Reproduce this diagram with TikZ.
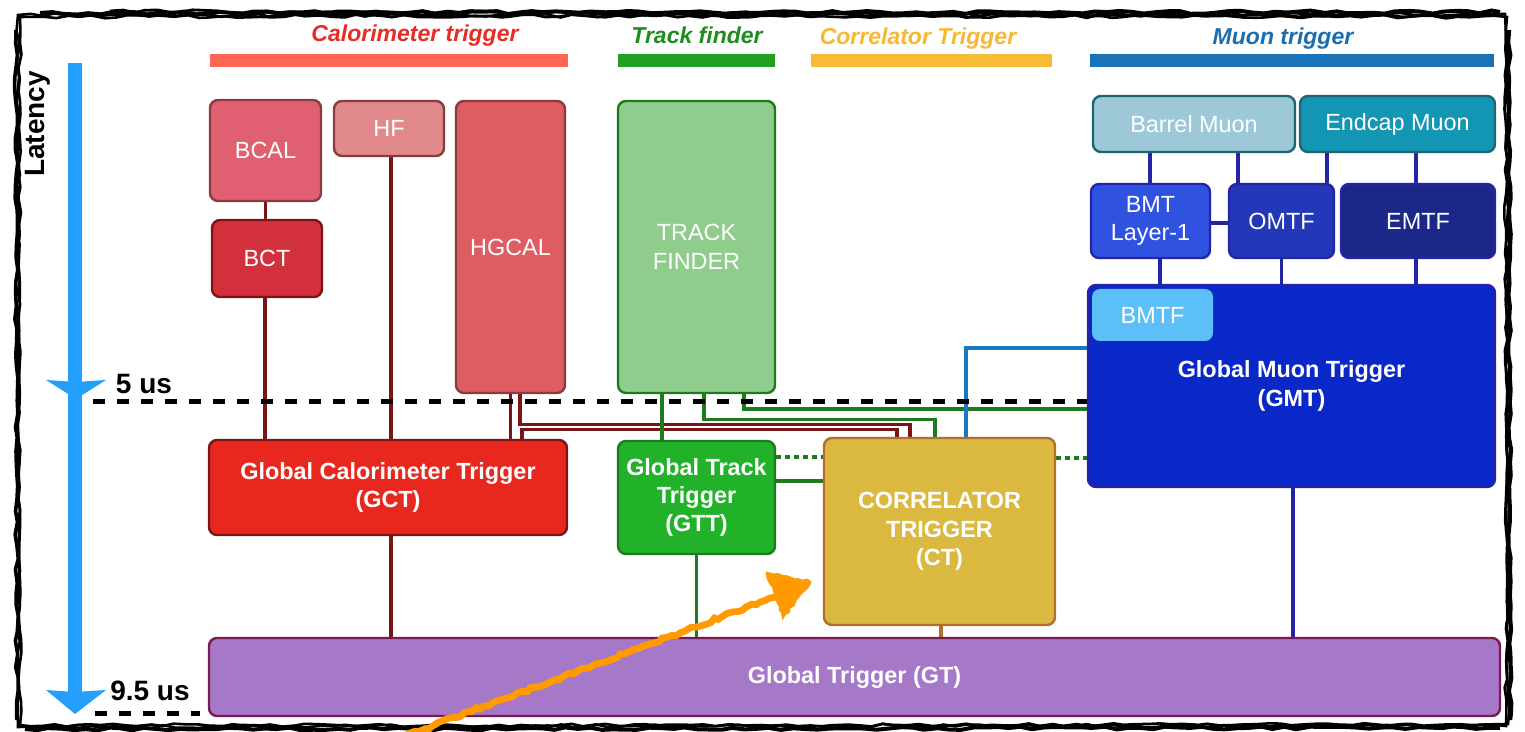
\documentclass[tikz,border=0pt]{standalone}
\usepackage{fontspec}
\setmainfont{Liberation Sans}
\usetikzlibrary{calc,decorations.pathmorphing}
\pgfdeclarelayer{bg}
\pgfsetlayers{bg,main}
\definecolor{bcalf}{HTML}{E06072}
\definecolor{bcald}{HTML}{8B3A40}
\definecolor{hff}{HTML}{E08A8C}
\definecolor{hgf}{HTML}{DE5D62}
\definecolor{bctf}{HTML}{D2303C}
\definecolor{gctf}{HTML}{E8281E}
\definecolor{calod}{HTML}{7A1515}
\definecolor{tff}{HTML}{90CC8C}
\definecolor{grd}{HTML}{1E7A1E}
\definecolor{gttf}{HTML}{22B22A}
\definecolor{ctf}{HTML}{DBB940}
\definecolor{ctd}{HTML}{B0702A}
\definecolor{barf}{HTML}{9CC8D8}
\definecolor{endf}{HTML}{1396B4}
\definecolor{mud}{HTML}{1F6570}
\definecolor{bmtf}{HTML}{3052E0}
\definecolor{omtff}{HTML}{2238B8}
\definecolor{emtff}{HTML}{1C2888}
\definecolor{gmtf}{HTML}{0A28C8}
\definecolor{mub}{HTML}{2424A8}
\definecolor{bmtff}{HTML}{5CBFF8}
\definecolor{gtf}{HTML}{A678C8}
\definecolor{gtd}{HTML}{7A1A50}
\definecolor{skyl}{HTML}{1A78C0}
\definecolor{latb}{HTML}{24A0FC}
\definecolor{orng}{HTML}{FF9A00}
\definecolor{calt}{HTML}{EA2A24}
\definecolor{calbar}{HTML}{FF6654}
\definecolor{trkt}{HTML}{1E8C1E}
\definecolor{trkbar}{HTML}{22A022}
\definecolor{cort}{HTML}{F7B733}
\definecolor{corbar}{HTML}{F7BC35}
\definecolor{muont}{HTML}{1A6EB0}
\definecolor{muonbar}{HTML}{1A72B8}
\begin{document}
\begin{tikzpicture}[x=0.5pt,y=-0.5pt,
  box/.style={rounded corners=4pt, line width=1.2pt, text=white, align=center, inner sep=0pt,
    font=\fontsize{11.7}{14.2}\selectfont},
  bbox/.style={box, font=\bfseries\fontsize{11.7}{14.2}\selectfont},
  hdr/.style={font=\bfseries\itshape\fontsize{11.5}{13}\selectfont, inner sep=0pt},
  wire/.style={line width=1.6pt},
  dashline/.style={line width=2.5pt, dash pattern=on 6pt off 6pt},
  lat/.style={font=\bfseries\fontsize{14}{16}\selectfont, inner sep=0pt},
  sketch/.style={decorate, decoration={random steps, segment length=6pt, amplitude=0.8pt}, line width=1.3pt}
]
\useasboundingbox (0,0) rectangle (1525,732);

% sketchy frame
\draw[sketch] (20,17) -- (1505,14) -- (1508,724) -- (18,727) -- cycle;
\draw[sketch] (18,15) -- (1507,17) -- (1506,726) -- (20,725) -- cycle;
\draw[sketch, line width=2pt] (40,13) -- (1500,12);
\draw[sketch, line width=1.8pt] (16,30) -- (17,720);
\draw[sketch, line width=2.2pt] (1509,30) -- (1510,720);
\draw[sketch, line width=2pt] (25,729) -- (1500,728);
\draw[sketch, line width=1.4pt] (110,11) -- (1480,16);

% headers
\node[hdr, text=calt] (hcal) at (415,36) {Calorimeter trigger};
\node[hdr, text=trkt] (htrk) at (697,35) {Track finder};
\node[hdr, text=cort] (hcor) at (918,39) {Correlator Trigger};
\node[hdr, text=muont] (hmu) at (1283,39) {Muon trigger};
\fill[calbar] (210,54) rectangle (568,67);
\fill[trkbar] (618,54) rectangle (775,67);
\fill[corbar] (811,54) rectangle (1052,67);
\fill[muonbar] (1090,54) rectangle (1494,67);

% latency axis
\node[lat, rotate=90] (latency) at (38,124) {Latency};
\coordinate (lt) at (75,63);
\coordinate (lb) at (75,700);
\draw[latb, line width=7pt] (lt) -- (lb);
\fill[latb] (46,380) -- (76,382) -- (106,380) -- (76,399) -- cycle;
\fill[latb] (46,690) -- (75,692) -- (106,690) -- (75,714) -- cycle;
\node[lat] (t5) at (144,384) {5 us};
\node[lat] (t95) at (150,691) {9.5 us};

% boxes
\node[box, fill=bcalf, draw=bcald, minimum width=55.5pt, minimum height=50.5pt] (BCAL) at (265.5,150.5) {BCAL};
\node[box, fill=hff, draw=bcald, minimum width=55pt, minimum height=27.5pt] (HF) at (389,128.5) {HF};
\node[box, fill=hgf, draw=bcald, minimum width=54.5pt, minimum height=146pt] (HGCAL) at (510.5,247) {HGCAL};
\node[box, fill=bctf, draw=calod, minimum width=55pt, minimum height=38.5pt] (BCT) at (267,258.5) {BCT};
\node[bbox, fill=gctf, draw=calod, minimum width=179pt, minimum height=47.5pt] (GCT) at (388,487.5) {Global Calorimeter Trigger\\(GCT)};
\node[box, fill=tff, draw=grd, minimum width=78.5pt, minimum height=146pt] (TF) at (696.5,247) {TRACK\\FINDER};
\node[bbox, fill=gttf, draw=grd, minimum width=78.5pt, minimum height=56.5pt] (GTT) at (696.5,497.5) {Global Track\\Trigger\\(GTT)};
\node[bbox, fill=ctf, draw=ctd, minimum width=115.5pt, minimum height=93.5pt] (CT) at (939.5,531.5) {CORRELATOR\\TRIGGER\\(CT)};
\node[box, fill=barf, draw=mud, minimum width=101pt, minimum height=28pt] (BAR) at (1194,124) {Barrel Muon};
\node[box, fill=endf, draw=mud, minimum width=97.5pt, minimum height=28pt] (END) at (1397.5,124) {Endcap Muon};
\node[box, fill=bmtf, draw=mub, minimum width=59.5pt, minimum height=37pt] (BMTL) at (1150.5,221) {BMT\\Layer-1};
\node[box, fill=omtff, draw=mub, minimum width=52.5pt, minimum height=37pt] (OMTF) at (1281.5,221) {OMTF};
\node[box, fill=emtff, draw=mub, minimum width=77pt, minimum height=37pt] (EMTF) at (1418,221) {EMTF};
\node[bbox, fill=gmtf, draw=mub, minimum width=203.5pt, minimum height=101pt] (GMT) at (1291.5,386) {Global Muon Trigger\\(GMT)};
\node[box, fill=bmtff, minimum width=60.5pt, minimum height=26pt] (BMTF) at (1152.5,315) {BMTF};
\node[bbox, fill=gtf, draw=gtd, minimum width=645.5pt, minimum height=39pt] (GT) at (854.5,677) {Global Trigger (GT)};

\begin{pgfonlayer}{bg}
% calorimeter wires
\draw[wire, calod] (BCAL.south) -- (BCAL.south |- BCT.north);
\draw[wire, calod] ($(BCT.south)+(-2,0)$) coordinate (c1) -- (c1 |- GCT.north);
\draw[wire, calod] ($(HF.south)+(2,0)$) coordinate (c2) -- (c2 |- GCT.north);
\draw[wire, calod] (HGCAL.south) -- (HGCAL.south |- GCT.north);
\draw[wire, calod] ($(HGCAL.south)+(9.5,0)$) -- ++(0,30) -| ($(CT.north)+(-29.5,0)$);
\draw[wire, calod] ($(CT.north)+(-42.5,0)$) -- ++(0,-7) -| ($(GCT.north)+(134,0)$);
\draw[wire, calod] ($(GCT.south)+(3,0)$) coordinate (c3) -- (c3 |- GT.north);
% track wires
\draw[wire, grd] ($(TF.south)+(-34.5,0)$) -- ($(GTT.north)+(-34.5,0)$);
\draw[wire, grd] ($(TF.south)+(7.5,0)$) -- ++(0,25) -| ($(CT.north)+(-4.5,0)$);
\draw[wire, grd] ($(TF.south)+(47.5,0)$) |- ($(GMT.west)+(0,23)$);
\draw[wire, grd] ($(GTT.east)+(0,-16.5)$) -- ($(CT.west)+(0,-50.5)$);
\draw[wire, grd, dash pattern=on 2.5pt off 2pt] ($(GTT.east)+(0,-40.5)$) -- ($(CT.west)+(0,-74.5)$);
\draw[wire, grd, dash pattern=on 2.5pt off 2pt] ($(CT.east)+(0,-73.5)$) -- ($(GMT.west)+(0,72)$);
\draw[wire, grd] (GTT.south) -- (GTT.south |- GT.north);
% CT and muon wires
\draw[wire, ctd] ($(CT.south)+(1.5,0)$) coordinate (c4) -- (c4 |- GT.north);
\draw[wire, skyl] ($(GMT.west)+(0,-38)$) -| ($(CT.north)+(26.5,0)$);
\draw[wire, mub] ($(GMT.south)+(1.5,0)$) coordinate (c5) -- (c5 |- GT.north);
\draw[wire, mub] ($(BAR.south)+(-44,0)$) coordinate (m1) -- (m1 |- BMTL.north);
\draw[wire, mub] ($(BAR.south)+(44,0)$) coordinate (m2) -- (m2 |- OMTF.north);
\draw[wire, mub] ($(END.south)+(-70.5,0)$) coordinate (m3) -- (m3 |- OMTF.north);
\draw[wire, mub] ($(END.south)+(18.5,0)$) coordinate (m4) -- (m4 |- EMTF.north);
\draw[wire, mub] ($(BMTL.east)+(0,2)$) -- ($(OMTF.west)+(0,2)$);
\draw[wire, mub] ($(BMTL.south)+(9.5,0)$) coordinate (m5) -- (m5 |- GMT.north);
\draw[wire, mub] (OMTF.south) -- (OMTF.south |- GMT.north);
\draw[wire, mub] ($(EMTF.south)+(-2,0)$) coordinate (m6) -- (m6 |- GMT.north);
% latency dashes
\coordinate (d5) at (93,402);
\draw[dashline] (d5) -- (d5 -| GMT.west);
\coordinate (d9a) at (95,713);
\coordinate (d9b) at (200,713);
\draw[dashline] (d9a) -- (d9b);
\end{pgfonlayer}

% orange hand-drawn arrow
\coordinate (oa) at (405,736);
\coordinate (ob) at (780,595);
\draw[orng, line width=3.4pt, decorate, decoration={random steps, segment length=2.5pt, amplitude=0.8pt}] (oa) -- (ob);
\fill[orng] (767,573) -- (810,582) -- (783,617) -- cycle;
\draw[orng, line width=1.2pt, decorate, decoration={random steps, segment length=2pt, amplitude=0.8pt}] (767,573) -- (810,582) -- (783,617) -- cycle;
\end{tikzpicture}
\end{document}
